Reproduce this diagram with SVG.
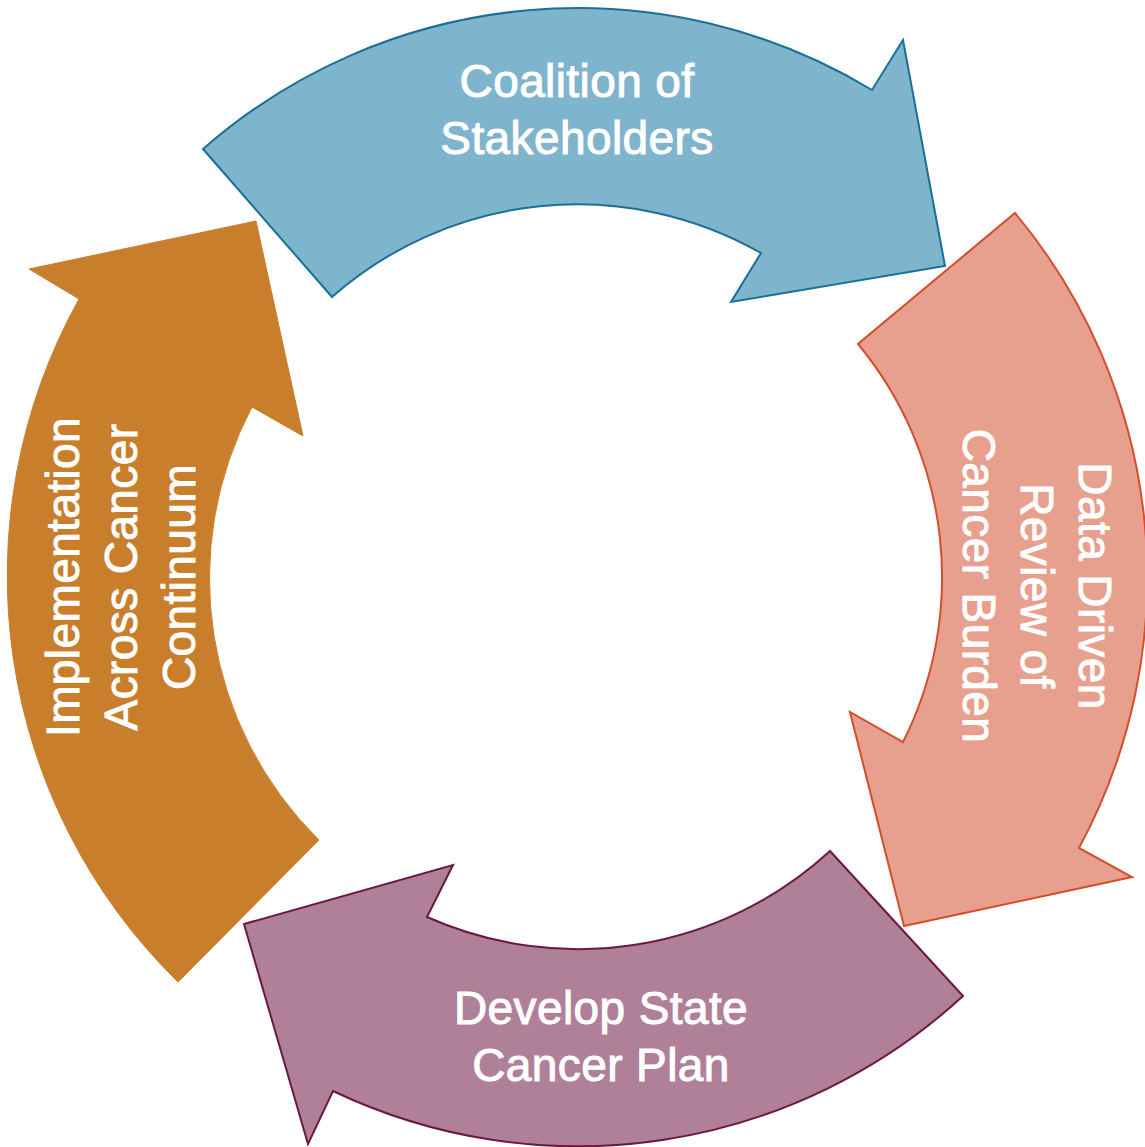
<svg xmlns="http://www.w3.org/2000/svg" width="1145" height="1147" viewBox="0 0 1145 1147">
<style>
.lbl{font-family:"Liberation Sans",Arial,sans-serif;font-size:46px;letter-spacing:0.4px;fill:#ffffff;text-anchor:middle;stroke:#ffffff;stroke-width:1}
.arw{stroke-width:2;stroke-linejoin:miter}
</style>
<rect width="1145" height="1147" fill="#ffffff"/>
<g id="connectors"></g>
<g id="node-coalition">
<path class="arw" fill="#7FB4CD" stroke="#1B6F97" d="M203,149 A569,569 0 0 1 872,90 L903,40 L945,266 L731,302 L761,253 A371,371 0 0 0 332,297 Z"/>
<text class="lbl" x="577" y="97">Coalition of</text>
<text class="lbl" x="577" y="154">Stakeholders</text>
</g>
<g id="node-data">
<path class="arw" fill="#E8A08E" stroke="#D24E2C" d="M1015,213 A569,569 0 0 1 1079,848 L1132,877 L904,926 L850,712 L903,742 A366,366 0 0 0 858,344 Z"/>
<text class="lbl" transform="translate(1021,586) rotate(90)"><tspan x="0" y="-58">Data Driven</tspan><tspan x="0" y="0">Review of</tspan><tspan x="0" y="58">Cancer Burden</tspan></text>
</g>
<g id="node-plan">
<path class="arw" fill="#B07F98" stroke="#6A1942" d="M963,996 A569,569 0 0 1 333,1091 L308,1144 L244,924 L453,865 L427,917 A372,372 0 0 0 830,851 Z"/>
<text class="lbl" x="601" y="1024">Develop State</text>
<text class="lbl" x="601" y="1081">Cancer Plan</text>
</g>
<g id="node-implementation">
<path fill="#C97E2C" stroke="#C97E2C" stroke-width="1" d="M178,982 A569,569 0 0 1 79,299 L29,269 L256,221 L303,436 L252,407 A367,367 0 0 0 319,840 Z"/>
<text class="lbl" transform="translate(137,577) rotate(-90)"><tspan x="0" y="-58">Implementation</tspan><tspan x="0" y="0">Across Cancer</tspan><tspan x="0" y="58">Continuum</tspan></text>
</g>
</svg>
